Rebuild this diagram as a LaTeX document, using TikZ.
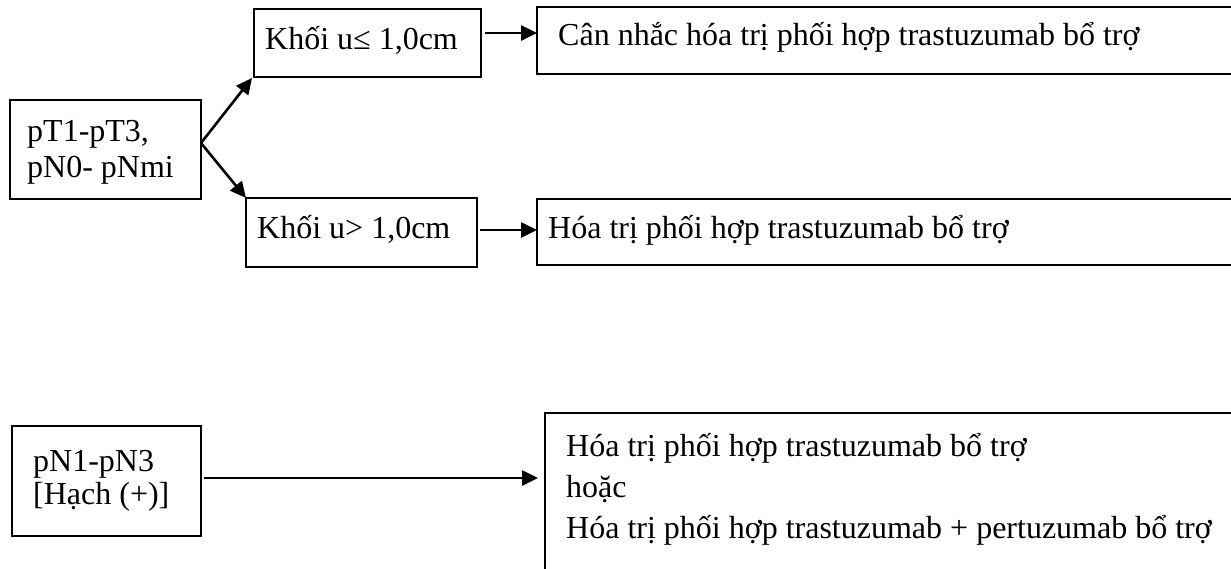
\documentclass[tikz,border=0pt]{standalone}
\usepackage{fontspec}
\setmainfont{Liberation Serif}
\usetikzlibrary{arrows.meta}
\tikzset{
  box/.style={draw, line width=2pt, inner sep=0pt, outer sep=0pt, anchor=north west},
  txt/.style={anchor=base west, inner sep=0pt, font=\fontsize{32}{38}\selectfont},
  arr/.style={line width=2.6pt, -{Triangle[length=16pt,width=15pt]}}
}
\begin{document}
\begin{tikzpicture}[x=1pt,y=-1pt]
\useasboundingbox (0,0) rectangle (1231,568);
\clip (0,0) rectangle (1231,568);
\fill[white] (0,0) rectangle (1231,568);
% boxes
\node[box, minimum width=191pt, minimum height=99pt] (A) at (10,100) {};
\node[box, minimum width=227pt, minimum height=68pt] (B) at (254,9) {};
\node[box, minimum width=231pt, minimum height=69pt] (C) at (246,198) {};
\node[box, minimum width=800pt, minimum height=67pt] (D) at (537,7) {};
\node[box, minimum width=800pt, minimum height=66pt] (E) at (537,199) {};
\node[box, minimum width=189pt, minimum height=110pt] (F) at (12,426) {};
\node[box, minimum width=800pt, minimum height=300pt] (G) at (545,413) {};
% texts
\node[txt] (a1) at (27,141) {pT1-pT3,};
\node[txt] (a2) at (27,177) {pN0- pNmi};
\node[txt] (b1) at (265,49) {Khối u≤ 1,0cm};
\node[txt] (c1) at (257,238) {Khối u> 1,0cm};
\node[txt] (d1) at (558,45) {Cân nhắc hóa trị phối hợp trastuzumab bổ trợ};
\node[txt] (e1) at (548,238) {Hóa trị phối hợp trastuzumab bổ trợ};
\node[txt] (f1) at (33,471) {pN1-pN3};
\node[txt] (f2) at (33,504) {[Hạch (+)]};
\node[txt] (g1) at (566,456) {Hóa trị phối hợp trastuzumab bổ trợ};
\node[txt] (g2) at (566,497) {hoặc};
\node[txt] (g3) at (566,538) {Hóa trị phối hợp trastuzumab + pertuzumab bổ trợ};
% connectors
\coordinate (as) at (201,143);
\draw[arr] (as) -- ([xshift=-2pt,yshift=-1pt]B.south west);
\draw[arr] (as) -- (C.north west);
\coordinate (bd) at (485,33);
\draw[arr] (bd) -- (bd -| D.west);
\coordinate (ce) at (480,230);
\draw[arr] (ce) -- (ce -| E.west);
\coordinate (fg) at (204,478);
\draw[arr, shorten >=7pt] (fg) -- (fg -| G.west);
\end{tikzpicture}
\end{document}
